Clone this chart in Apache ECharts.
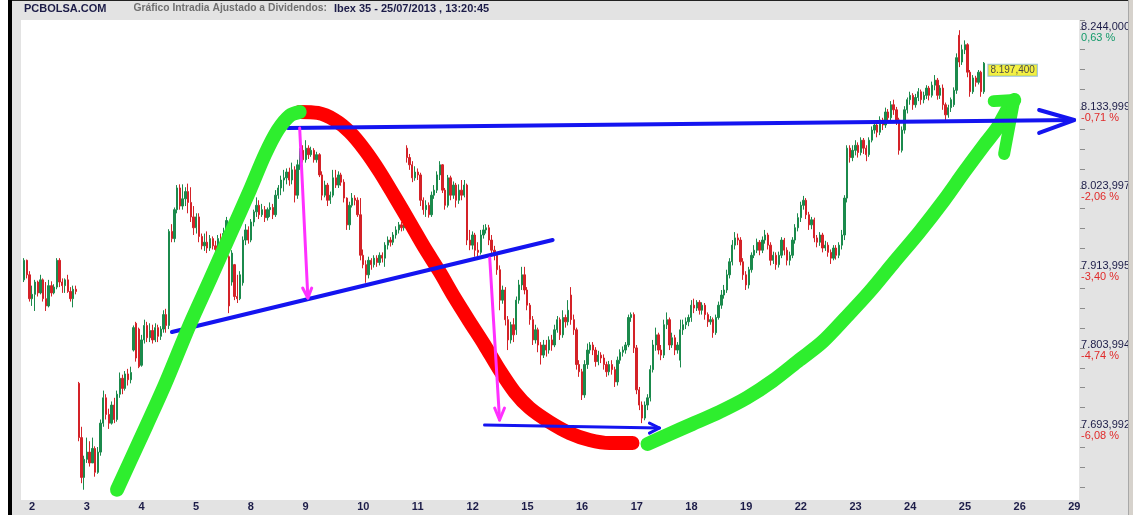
<!DOCTYPE html>
<html><head><meta charset="utf-8">
<script src="https://cdn.jsdelivr.net/npm/echarts@6/dist/echarts.min.js"></script>
<style>html,body{margin:0;padding:0;background:#e3e3e3}#c{width:1133px;height:515px}</style>
</head><body><div id="c"></div>
<script>
// ---- x axis (trading days) ----
const dayLabels = ['2','3','4','5','8','9','10','11','12','15','16','17','18','19','22','23','24','25','26','29'];
const slotsPerDay = 20;

// ---- candles per day: [open, close, low, high] ----
const day02 = [[7898,7925,7895,7928],[7925,7905,7900,7926],[7905,7872,7868,7910],[7872,7878,7862,7890],[7878,7895,7855,7898],
[7895,7880,7875,7897],[7880,7898,7878,7905],[7898,7872,7868,7900],[7872,7862,7855,7895],[7862,7890,7860,7898],
[7890,7880,7875,7896],[7880,7888,7878,7892],[7888,7925,7885,7928],[7925,7895,7888,7928],[7895,7890,7880,7900],
[7890,7898,7880,7900],[7898,7882,7880,7905],[7882,7872,7868,7888],[7872,7885,7860,7890],[7885,7882,7878,7890]];
const day03 = [[7755,7680,7675,7757],[7680,7625,7617,7695],[7625,7650,7608,7655],[7650,7660,7645,7680],[7660,7645,7640,7675],
[7645,7665,7645,7680],[7665,7632,7626,7668],[7632,7660,7630,7667],[7660,7700,7655,7705],[7700,7735,7695,7745],
[7735,7712,7705,7740],[7712,7700,7692,7720],[7700,7725,7698,7730],[7725,7705,7700,7735],[7705,7740,7702,7745],
[7740,7762,7735,7770],[7762,7748,7740,7767],[7748,7768,7745,7772],[7768,7760,7752,7775],[7760,7770,7755,7778]];
const day04 = [[7801,7832,7799,7835],[7838,7790,7785,7840],[7830,7778,7776,7832],[7780,7815,7778,7822],[7815,7835,7810,7843],
[7835,7818,7812,7840],[7818,7828,7812,7838],[7828,7815,7810,7836],[7815,7832,7812,7838],[7832,7820,7812,7836],
[7820,7830,7815,7834],[7830,7850,7825,7856],[7850,7835,7825,7858],[7835,7965,7830,7968],[7965,7955,7950,7975],
[7955,7995,7950,7998],[7995,8025,7990,8029],[8025,8000,7995,8030],[8000,8010,7995,8030],[8010,8020,8000,8026]];
const day05 = [[8020,8005,7990,8031],[8005,7985,7978,8026],[7985,7970,7960,8000],[7970,7985,7962,7990],[7985,7958,7950,7990],
[7958,7945,7940,7962],[7945,7950,7938,7962],[7950,7942,7935,7965],[7942,7955,7938,7960],[7955,7945,7940,7958],
[7945,7940,7935,7952],[7940,7955,7937,7960],[7955,7950,7940,7962],[7950,7962,7945,7970],[7962,7980,7955,7985],
[7930,7862,7852,7932],[7895,7935,7890,7939],[7919,7875,7870,7920],[7875,7872,7866,7905],[7872,7905,7870,7910]];
const day08 = [[7894,7953,7890,7958],[7953,7967,7946,7975],[7967,7953,7948,7972],[7953,7978,7950,7982],[7978,7992,7972,7995],
[7992,8001,7985,8012],[8001,7988,7982,8008],[7988,7995,7985,8003],[7995,7984,7978,8000],[7984,7995,7980,7998],
[7995,7998,7985,8005],[7998,7988,7982,8003],[7988,8015,7985,8022],[8015,8025,8010,8029],[8025,8036,8015,8042],
[8036,8039,8020,8050],[8039,8047,8030,8052],[8047,8036,8028,8053],[8036,8050,8030,8060],[8050,8015,8005,8055]];
const day09 = [[8015,8057,8010,8064],[8057,8077,8050,8080],[8077,8064,8060,8084],[8064,8080,8060,8091],[8080,8071,8065,8084],
[8071,8077,8068,8082],[8077,8064,8060,8080],[8064,8071,8060,8075],[8071,8043,8040,8073],[8043,8015,8008,8048],
[8015,8029,8012,8035],[8029,8008,8000,8032],[8008,8015,8003,8020],[8015,8039,8012,8050],[8039,8029,8025,8050],
[8029,8043,8025,8048],[8043,8033,8028,8046],[8033,8011,8005,8037],[8011,7974,7967,8012],[7974,8001,7967,8006]];
const day10 = [[8001,8011,7998,8018],[8011,8008,8001,8015],[8008,7988,7985,8012],[7988,7932,7925,8011],[7932,7919,7914,7940],
[7919,7905,7894,7925],[7905,7925,7900,7930],[7925,7919,7912,7928],[7919,7928,7915,7932],[7928,7922,7916,7932],
[7922,7932,7918,7936],[7932,7928,7922,7936],[7928,7946,7916,7950],[7946,7953,7940,7958],[7953,7950,7944,7957],
[7950,7960,7946,7964],[7960,7967,7955,7972],[7967,7974,7962,7978],[7974,7970,7965,7978],[7970,7981,7966,7988]];
const day11 = [[8080,8067,8060,8084],[8067,8057,8050,8072],[8057,8039,8033,8062],[8039,8047,8035,8055],[8047,8043,8036,8052],
[8043,8008,8000,8046],[8008,7995,7988,8012],[7995,8001,7985,8008],[8001,7988,7984,8005],[7988,8015,7985,8020],
[8015,8022,8010,8029],[8022,8043,8018,8048],[8043,8057,8036,8062],[8057,8022,8018,8058],[8022,8001,7995,8025],
[8001,8039,7998,8043],[8039,8015,8008,8042],[8015,8029,8010,8034],[8029,8008,7998,8032],[8008,8022,8003,8030]];
const day12 = [[8022,8015,8008,8036],[8015,8029,8012,8036],[8029,7953,7946,8031],[7953,7946,7939,7967],[7946,7960,7940,7965],
[7960,7939,7930,7963],[7939,7936,7930,7950],[7936,7960,7933,7967],[7960,7967,7955,7974],[7967,7970,7962,7975],
[7970,7953,7946,7974],[7953,7939,7932,7960],[7939,7932,7925,7945],[7932,7912,7905,7935],[7912,7870,7856,7918],
[7870,7884,7865,7890],[7884,7843,7835,7888],[7843,7815,7801,7848],[7815,7836,7810,7840],[7836,7822,7812,7845]];
const day15 = [[7829,7870,7822,7875],[7870,7891,7865,7898],[7891,7905,7884,7916],[7905,7884,7878,7916],[7884,7863,7856,7888],
[7863,7843,7836,7866],[7843,7815,7808,7848],[7815,7829,7810,7836],[7829,7808,7798,7832],[7808,7794,7781,7812],
[7794,7808,7790,7815],[7808,7801,7792,7815],[7801,7815,7796,7820],[7815,7808,7800,7822],[7808,7829,7805,7836],
[7829,7843,7825,7848],[7843,7822,7815,7846],[7822,7846,7818,7856],[7846,7840,7832,7850],[7840,7856,7835,7870]];
const day16 = [[7877,7843,7836,7888],[7843,7829,7822,7850],[7829,7781,7774,7832],[7781,7771,7764,7787],[7771,7739,7732,7775],
[7739,7781,7735,7787],[7781,7801,7775,7810],[7801,7808,7796,7812],[7808,7801,7794,7812],[7801,7785,7778,7805],
[7785,7794,7780,7800],[7794,7790,7783,7798],[7790,7781,7774,7795],[7781,7771,7764,7785],[7771,7781,7766,7786],
[7781,7774,7767,7787],[7774,7757,7750,7778],[7757,7787,7752,7792],[7787,7798,7782,7802],[7798,7801,7792,7806]];
const day17 = [[7801,7808,7796,7812],[7808,7846,7805,7850],[7846,7850,7840,7853],[7850,7804,7797,7853],[7804,7746,7740,7808],
[7746,7725,7718,7750],[7725,7707,7700,7730],[7707,7725,7704,7730],[7725,7735,7718,7740],[7735,7774,7730,7780],
[7774,7808,7770,7815],[7808,7822,7800,7832],[7822,7801,7795,7825],[7801,7794,7787,7808],[7794,7836,7790,7843],
[7836,7843,7830,7853],[7843,7808,7801,7846],[7808,7818,7804,7825],[7818,7801,7794,7822],[7801,7808,7796,7812]];
const day18 = [[7787,7829,7777,7843],[7829,7836,7822,7843],[7836,7840,7830,7846],[7840,7846,7834,7850],[7846,7863,7840,7870],
[7863,7859,7852,7872],[7859,7867,7855,7870],[7867,7856,7850,7870],[7856,7863,7850,7867],[7863,7850,7843,7866],
[7850,7840,7833,7853],[7840,7843,7836,7848],[7843,7825,7818,7846],[7825,7846,7822,7850],[7846,7863,7843,7868],
[7863,7877,7858,7884],[7877,7884,7872,7891],[7884,7905,7880,7912],[7905,7923,7900,7928],[7923,7946,7918,7953]];
const day19 = [[7946,7956,7940,7964],[7956,7953,7946,7962],[7953,7923,7918,7957],[7923,7905,7898,7928],[7905,7891,7884,7910],
[7891,7912,7886,7916],[7912,7932,7908,7936],[7932,7939,7928,7946],[7939,7950,7935,7955],[7950,7939,7932,7953],
[7939,7953,7935,7958],[7953,7960,7948,7967],[7960,7946,7940,7963],[7946,7925,7918,7950],[7925,7932,7920,7937],
[7932,7919,7912,7936],[7919,7932,7915,7937],[7932,7953,7928,7957],[7953,7939,7932,7956],[7939,7925,7918,7943]];
const day22 = [[7925,7932,7918,7937],[7932,7953,7928,7957],[7953,7970,7948,7975],[7970,7984,7965,7990],[7984,8001,7978,8006],
[8001,8008,7995,8014],[8008,7988,7982,8011],[7988,7974,7967,7992],[7974,7981,7968,7985],[7981,7956,7950,7984],
[7956,7950,7943,7960],[7950,7960,7945,7964],[7960,7942,7936,7963],[7942,7946,7938,7952],[7946,7936,7930,7950],
[7936,7928,7920,7940],[7928,7942,7925,7946],[7942,7932,7926,7946],[7932,7946,7928,7950],[7946,7960,7940,7967]];
const day23 = [[7960,8011,7953,8015],[8011,8080,8005,8084],[8080,8067,8060,8084],[8067,8077,8062,8084],[8077,8084,8070,8091],
[8084,8074,8067,8088],[8074,8091,8070,8095],[8091,8080,8072,8094],[8080,8071,8062,8084],[8071,8091,8068,8095],
[8091,8105,8088,8110],[8105,8112,8100,8118],[8112,8102,8095,8116],[8102,8119,8098,8124],[8119,8112,8105,8122],
[8112,8130,8108,8136],[8130,8122,8115,8134],[8122,8140,8118,8145],[8140,8133,8126,8147],[8133,8119,8112,8137]];
const day24 = [[8119,8077,8071,8122],[8077,8105,8074,8110],[8105,8133,8100,8138],[8133,8147,8128,8150],[8147,8153,8140,8158],
[8153,8140,8133,8156],[8140,8150,8136,8155],[8150,8158,8145,8163],[8158,8147,8140,8161],[8147,8153,8142,8158],
[8153,8163,8148,8167],[8163,8153,8146,8166],[8153,8167,8150,8172],[8167,8174,8160,8181],[8174,8153,8147,8177],
[8153,8163,8148,8167],[8163,8140,8133,8168],[8140,8126,8119,8143],[8126,8136,8122,8140],[8136,8147,8130,8150]];
const day25 = [[8140,8160,8137,8164],[8160,8205,8155,8211],[8236,8199,8192,8243],[8199,8216,8195,8223],[8216,8223,8210,8229],
[8223,8185,8178,8225],[8185,8158,8151,8188],[8158,8177,8155,8181],[8177,8171,8165,8180],[8171,8185,8168,8188],
[8185,8158,8151,8187],[8158,8197.4,8155,8199]];
const days = [day02,day03,day04,day05,day08,day09,day10,day11,day12,day15,day16,day17,day18,day19,day22,day23,day24,day25];

// ---- y axis ----
const yTickValues = [8244.000, 8133.999, 8023.997, 7913.995, 7803.994, 7693.992];
const yTickLabels = ['8.244,000','8.133,999','8.023,997','7.913,995','7.803,994','7.693,992'];
const yTickPcts = ['0,63 %','-0,71 %','-2,06 %','-3,40 %','-4,74 %','-6,08 %'];
const yTickStep = 27.5;          // small dash every quarter of a labelled step
const yTickLowest = 7611.5;      // lowest small dash inside the plot
const lastPrice = 8197.4;
const lastPriceLabel = '8.197,400';

// ---- hand-drawn annotations, in (slot index, price) ----
const greenUp = [[34.0,7608],[42.4,7677],[51.5,7753],[60.6,7836],[68.0,7898],[75.3,7960],[82.6,8022],[88.1,8071],[92.8,8105],[97.2,8125],[100.8,8130]];
const redDown = [[100.8,8130],[107.4,8128.6],[113.6,8119],[119.1,8102.3],[124.6,8077.5],[130.1,8047.1],[135.6,8012.6],[141.0,7978],[146.5,7942.1],[152.0,7908.9],[157.5,7873],[163.0,7839.8],[168.4,7808],[173.9,7773.4],[179.4,7743],[184.9,7720.9],[192.2,7701.5],[199.5,7686.3],[206.8,7676.7],[214.1,7672.5],[222.5,7672.5]];
const greenRise = [[228.0,7671.2],[236.0,7685],[244.4,7698.8],[254.3,7715.4],[264.2,7734.7],[273.7,7758.2],[283.5,7787.2],[291.9,7812.1],[300.7,7846.7],[309.1,7881.2],[318.2,7922.7],[327.4,7964.1],[336.5,8008.4],[343.8,8047.1],[351.1,8084.4],[355.9,8107.9],[359.5,8132.7],[362.1,8146.6]];
const greenRiseHook = [[354.6,8145],[362.1,8146.6],[358.4,8072]];
const blueResist = [[96.5,8107.9],[384.0,8118.9]];
const blueResistHead = [[371.2,8132.7],[384.0,8118.9],[371.2,8101]];
const blueSupport = [[54.1,7826],[193.3,7953.1]];
const blueLow = [[168.4,7697.4],[232.4,7693.3]];
const blueLowHead = [[228.7,7700],[232.4,7693.3],[228.7,7686.3]];
const magentaA = [[100.8,8107.9],[103.8,7873]];
const magentaAHead = [[101.9,7886.7],[103.8,7873],[105.2,7886.7]];
const magentaB = [[170.3,7928.2],[173.9,7704.3]];
const magentaBHead = [[172.1,7720.9],[173.9,7704.3],[175.7,7720.9]];

// ---- build ----
const rows = [];
days.forEach((d, di) => d.forEach((c, si) => rows.push([di * slotsPerDay + si, c[0], c[1], c[2], c[3]])));
const lastX = rows[rows.length - 1][0];

const FONT = "'Liberation Sans', Arial, sans-serif";
const Y_MIN = 7593.8, Y_MAX = 8257.1;
const PLOT_TOP = 20, PLOT_BOTTOM = 15, PLOT_H = 515 - PLOT_TOP - PLOT_BOTTOM;
// dash axis: same pixel scale as price axis, values counted from the lowest dash
const dashBottom = PLOT_BOTTOM + (yTickLowest - Y_MIN) / (Y_MAX - Y_MIN) * PLOT_H;

function stroke(data, color, width, z, smooth) {
  return { type: 'line', data: data, symbol: 'none', smooth: smooth || false, z: z, silent: true,
    lineStyle: { color: color, width: width, cap: 'round', join: 'round' } };
}

const chart = echarts.init(document.getElementById('c'));
chart.setOption({
  animation: false,
  backgroundColor: '#e3e3e3',
  title: {
    left: 24, top: 3, padding: 0,
    text: '{a|PCBOLSA.COM}{b|Gráfico Intradia Ajustado a Dividendos:}{c|Ibex 35 - 25/07/2013 , 13:20:45}',
    textStyle: { rich: {
      a: { fontFamily: FONT, fontSize: 11, fontWeight: 'bold', color: '#1c1c48' },
      b: { fontFamily: FONT, fontSize: 10.3, color: '#707070', padding: [0, 0, 0, 27] },
      c: { fontFamily: FONT, fontSize: 11, fontWeight: 'bold', color: '#1c1c48', padding: [0, 0, 0, 7] }
    } }
  },
  grid: [
    { left: 21, right: 53, top: PLOT_TOP, bottom: PLOT_BOTTOM, show: true, backgroundColor: '#ffffff', borderWidth: 0 },
    { left: 1080, width: 6, top: PLOT_TOP, bottom: dashBottom, show: false }
  ],
  xAxis: [{
    type: 'value', min: -1.1, max: 385.8,
    axisLine: { show: false }, axisTick: { show: false }, splitLine: { show: false },
    axisLabel: {
      customValues: dayLabels.map((_, i) => i * slotsPerDay),
      formatter: v => dayLabels[Math.round(v / slotsPerDay)],
      align: 'left', padding: [0, 0, 0, 5], margin: 1,
      fontFamily: FONT, fontSize: 11, fontWeight: 'bold', color: '#1c1c48'
    }
  }, {
    gridIndex: 1, type: 'value', show: false, min: 0, max: 1
  }],
  yAxis: [{
    type: 'value', position: 'right', min: Y_MIN, max: Y_MAX,
    axisLine: { show: false }, splitLine: { show: false }, axisTick: { show: false },
    axisLabel: {
      customValues: yTickValues, margin: 2, padding: [6, 0, 0, 0], verticalAlign: 'middle',
      formatter: v => {
        const i = yTickValues.findIndex(t => Math.abs(t - v) < 0.01);
        return '{v|' + yTickLabels[i] + '}\n{' + (i === 0 ? 'g' : 'r') + '|' + yTickPcts[i] + '}';
      },
      rich: {
        v: { fontFamily: FONT, fontSize: 11, color: '#1c1c48', lineHeight: 11 },
        g: { fontFamily: FONT, fontSize: 11, color: '#149a6a', lineHeight: 11 },
        r: { fontFamily: FONT, fontSize: 11, color: '#e02a2a', lineHeight: 11 }
      }
    }
  }, {
    gridIndex: 1, type: 'value', position: 'left',
    min: 0, max: Y_MAX - yTickLowest, interval: yTickStep,
    axisLine: { show: false }, splitLine: { show: false }, axisLabel: { show: false },
    axisTick: { show: true, inside: true, length: 5, lineStyle: { color: '#8c8c8c' } }
  }],
  graphic: { elements: [
    { type: 'rect', z: 100, shape: { x: 0, y: 0, width: 8, height: 515 }, style: { fill: '#ffffff' } },
    { type: 'rect', z: 100, shape: { x: 8, y: 0, width: 4, height: 515 }, style: { fill: '#000000' } },
    { type: 'rect', z: 100, shape: { x: 12, y: 0, width: 1116, height: 1 }, style: { fill: '#222222' } },
    { type: 'rect', z: 100, shape: { x: 1128, y: 0, width: 5, height: 515 }, style: { fill: '#d6d2cc' } },
    { type: 'rect', z: 100, shape: { x: 1128, y: 0, width: 1, height: 515 }, style: { fill: '#a8a8a8' } }
  ] },
  series: [
    { type: 'candlestick', data: rows, encode: { x: 0, y: [1, 2, 3, 4] }, barWidth: 1.8, z: 2, silent: true,
      itemStyle: { color: '#1b8a4c', color0: '#d42228', borderColor: '#1b8a4c', borderColor0: '#d42228', borderWidth: 1 } },
    stroke(redDown, '#ff0000', 14, 3, 0.3),
    stroke(greenRise, '#2eee2e', 14, 3, 0.3),
    stroke(greenRiseHook, '#2eee2e', 12, 3),
    stroke(blueResist, '#1414f0', 4, 4),
    stroke(blueResistHead, '#1414f0', 4, 4),
    stroke(blueSupport, '#1414f0', 4, 4),
    stroke(blueLow, '#1414f0', 3, 4),
    stroke(blueLowHead, '#1414f0', 3, 4),
    stroke(greenUp, '#2eee2e', 14, 5, 0.3),
    stroke(magentaA, '#ff30ff', 3, 6),
    stroke(magentaAHead, '#ff30ff', 3, 6),
    stroke(magentaB, '#ff30ff', 3, 6),
    stroke(magentaBHead, '#ff30ff', 3, 6),
    { type: 'scatter', data: [[lastX, lastPrice]], symbolSize: 1, itemStyle: { color: 'rgba(0,0,0,0)' }, z: 7, silent: true,
      label: { show: true, position: 'right', distance: 4, offset: [0, 7], formatter: lastPriceLabel,
        fontFamily: FONT, fontSize: 10, color: '#1c1c48', backgroundColor: '#f2ee14',
        borderColor: '#7fb3d5', borderWidth: 1, padding: [1, 2, 0, 2] } }
  ]
});
</script>
</body></html>
